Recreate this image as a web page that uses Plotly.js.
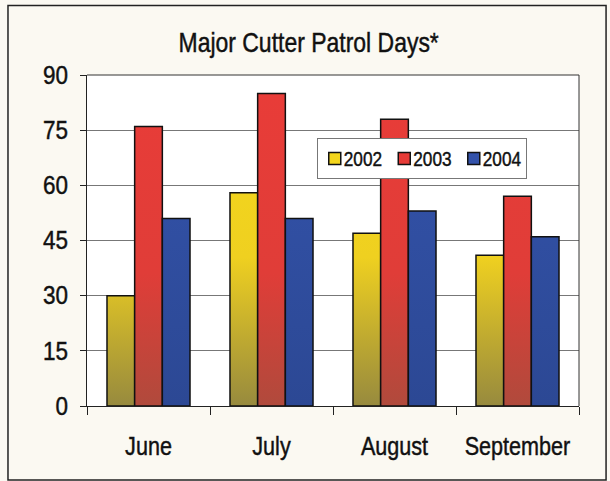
<!DOCTYPE html>
<html><head><meta charset="utf-8">
<script src="https://cdn.plot.ly/plotly-3.0.1.min.js"></script>
<style>html,body{margin:0;padding:0;background:#fbf9f2;}#chart{width:610px;height:481px;}</style>
</head><body><div id="chart"></div>
<script>
const months = ["June", "July", "August", "September"];
const years = ["2002", "2003", "2004"];
const days2002 = [30, 58, 47, 41];
const days2003 = [76, 85, 78, 57];
const days2004 = [51, 51, 53, 46];
const yTicks = [0, 15, 30, 45, 60, 75, 90];
const colors = ["#f4d61c", "#e63b37", "#3352aa"];
const series = [days2002, days2003, days2004];

const FONT = '"Liberation Sans", Arial, sans-serif';

const traces = series.map((vals, i) => ({
  type: "bar", name: years[i], x: months, y: vals,
  marker: {color: colors[i], line: {color: "#111", width: 1.5}},
  hoverinfo: "none"
}));

const layout = {
  width: 610, height: 481,
  paper_bgcolor: "#fbf9f2", plot_bgcolor: "#ffffff",
  margin: {l: 87, r: 31, t: 75, b: 75},
  font: {family: FONT, color: "#111", size: 24},
  title: {text: "Major Cutter Patrol Days*", font: {family: FONT, size: 28, color: "#111"},
          x: 0.506, xanchor: "center", xref: "container", y: 0.913, yanchor: "middle"},
  barmode: "group", bargap: 0.325, bargroupgap: 0,
  xaxis: {tickson: "boundaries", ticks: "outside", ticklen: 8, tickcolor: "#222", tickwidth: 1,
          tickangle: 0, ticklabelstandoff: 17,
          showline: true, linecolor: "#222", linewidth: 1, mirror: false,
          tickfont: {family: FONT, size: 26, color: "#111"}, showgrid: false},
  yaxis: {range: [0, 90], tickvals: yTicks, ticks: "outside", ticklen: 6, tickcolor: "#222",
          ticklabelstandoff: 7,
          showline: true, linecolor: "#222", linewidth: 1,
          showgrid: true, gridcolor: "#777", gridwidth: 1, zeroline: false,
          tickfont: {family: FONT, size: 25, color: "#111"}},
  legend: {orientation: "h", x: 0.467, y: 0.81, xanchor: "left", yanchor: "top",
           bgcolor: "#ffffff", bordercolor: "#777", borderwidth: 1,
           font: {family: FONT, size: 20, color: "#111"}},
  shapes: [
    {type: "line", xref: "paper", yref: "paper", x0: 0, x1: 1, y0: 1, y1: 1, line: {color: "#333", width: 1}},
    {type: "line", xref: "paper", yref: "paper", x0: 1, x1: 1, y0: 0, y1: 1, line: {color: "#333", width: 1}},
    {type: "rect", xref: "paper", yref: "paper", x0: -0.1606, x1: 1.055, y0: -0.2236, y1: 1.21,
     line: {color: "#222", width: 1.5}, layer: "below"}
  ]
};

function condense(el, k) {
  const w = el.getComputedTextLength();
  if (w > 0) {
    el.setAttribute("lengthAdjust", "spacingAndGlyphs");
    el.setAttribute("textLength", (w * k).toFixed(1));
  }
  el.style.stroke = "#111";
  el.style.strokeWidth = "0.45px";
}

Plotly.newPlot("chart", traces, layout, {displayModeBar: false, staticPlot: true}).then(gd => {
  const svg = gd.querySelector("svg.main-svg");
  const ns = "http://www.w3.org/2000/svg";
  let defs = svg.querySelector("defs");
  const grads = [
    [["0", "#f6d91a"], ["0.55", "#efd020"], ["1", "#978a3e"]],
    [["0", "#e93c38"], ["0.6", "#e03d38"], ["1", "#b04a3c"]],
    [["0", "#3454ad"], ["1", "#2c4894"]]
  ];
  const h = gd._fullLayout._size.h;
  grads.forEach((stops, i) => {
    const g = document.createElementNS(ns, "linearGradient");
    g.setAttribute("id", "bargrad" + i);
    g.setAttribute("gradientUnits", "userSpaceOnUse");
    g.setAttribute("x1", "0"); g.setAttribute("x2", "0");
    g.setAttribute("y1", "0"); g.setAttribute("y2", String(h));
    stops.forEach(([o, c]) => {
      const s = document.createElementNS(ns, "stop");
      s.setAttribute("offset", o); s.setAttribute("stop-color", c);
      g.appendChild(s);
    });
    defs.appendChild(g);
  });
  gd.querySelectorAll(".barlayer .trace").forEach((t, i) => {
    t.querySelectorAll("path").forEach(p => { p.style.fill = "url(#bargrad" + i + ")"; });
  });

  // narrow, tightly-set lettering like the original
  gd.querySelectorAll(".xtick text").forEach(t => condense(t, 0.83));
  gd.querySelectorAll(".ytick text").forEach(t => condense(t, 0.9));
  gd.querySelectorAll(".gtitle").forEach(t => condense(t, 0.82));

  // compact legend
  const leg = gd.querySelector("g.legend");
  if (leg) {
    const items = leg.querySelectorAll("g.traces");
    items.forEach((it, i) => {
      const tr = it.getAttribute("transform") || "";
      const m = tr.match(/translate\(([-\d.]+)[ ,]+([-\d.]+)\)/);
      const y = m ? m[2] : "0";
      it.setAttribute("transform", "translate(" + (-2 + i * 69.5) + "," + y + ")");
      const tx = it.querySelector("text.legendtext");
      if (tx) { tx.setAttribute("x", "29"); condense(tx, 0.86); }
    });
    const bg = leg.querySelector("rect.bg");
    if (bg) bg.setAttribute("width", "209");
  }
});
</script></body></html>
